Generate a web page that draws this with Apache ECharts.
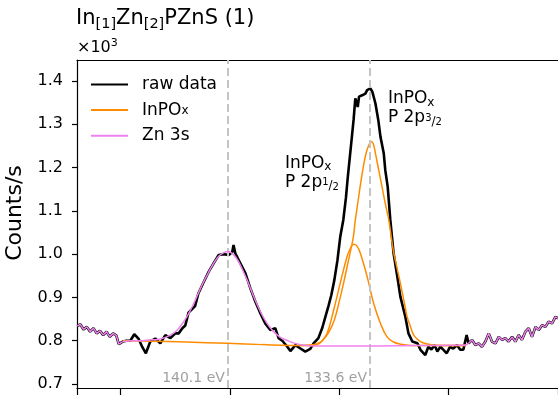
<!DOCTYPE html>
<html>
<head>
<meta charset="utf-8">
<script src="https://cdn.jsdelivr.net/npm/echarts@6/dist/echarts.min.js"></script>
<style>
  html, body { margin: 0; padding: 0; background: #fff; }
  #xpschart { width: 558px; height: 399px; }
</style>
</head>
<body>
<div id="xpschart"></div>
<script>
  // binding energy in eV, intensity in 10^3 counts/s
  const rawEnergy = [
    146.99, 146.85, 146.70, 146.55, 146.40, 146.25, 146.10, 145.95, 145.80, 145.65,
    145.50, 145.35, 145.20, 145.09, 144.91, 144.74, 144.56, 144.38, 144.19, 144.01,
    143.85, 143.65, 143.42, 143.19, 142.96, 142.73, 142.50, 142.35, 142.18, 142.05,
    141.90, 141.78, 141.60, 141.45, 141.21, 140.98, 140.75, 140.52, 140.29, 140.06,
    139.90, 139.84, 139.76, 139.53, 139.30, 139.07, 138.84, 138.61, 138.39, 138.16,
    137.93, 137.78, 137.61, 137.38, 137.24, 137.01, 136.78, 136.56, 136.33, 136.18,
    135.96, 135.78, 135.64, 135.50, 135.37, 135.23, 135.09, 134.96, 134.82, 134.70,
    134.62, 134.53, 134.43, 134.35, 134.27, 134.20, 134.16, 134.10, 134.04, 133.96,
    133.81, 133.73, 133.65, 133.58, 133.49, 133.35, 133.22, 133.12, 132.97, 132.90,
    132.79, 132.67, 132.52, 132.35, 132.21, 131.98, 131.84, 131.66, 131.43, 131.29,
    131.20, 131.07, 130.93, 130.79, 130.65, 130.52, 130.38, 130.24, 130.09, 129.94,
    129.79, 129.62, 129.47, 129.33, 129.18, 129.09, 128.93, 128.78, 128.63, 128.48,
    128.32, 128.17, 128.02, 127.86, 127.71, 127.56, 127.41, 127.26, 127.10, 126.95,
    126.80, 126.65, 126.49, 126.34, 126.19, 126.03, 125.88, 125.73, 125.58, 125.43,
    125.27, 125.12, 125.00
  ]
  const rawCounts = [
    0.834, 0.838, 0.826, 0.832, 0.821, 0.829, 0.817, 0.823, 0.813, 0.821,
    0.809, 0.817, 0.812, 0.792, 0.798, 0.800, 0.800, 0.815, 0.805, 0.785,
    0.771, 0.798, 0.805, 0.794, 0.813, 0.806, 0.817, 0.817, 0.829, 0.835,
    0.865, 0.871, 0.880, 0.909, 0.935, 0.959, 0.979, 0.998, 1.000, 0.998,
    1.005, 1.021, 1.002, 0.979, 0.956, 0.921, 0.890, 0.863, 0.840, 0.825,
    0.829, 0.806, 0.800, 0.786, 0.776, 0.790, 0.782, 0.775, 0.781, 0.794,
    0.806, 0.830, 0.855, 0.880, 0.905, 0.940, 0.985, 1.040, 1.079, 1.130,
    1.175, 1.220, 1.270, 1.310, 1.360, 1.356, 1.340, 1.364, 1.360, 1.367,
    1.371, 1.379, 1.382, 1.383, 1.375, 1.348, 1.310, 1.271, 1.233, 1.194,
    1.156, 1.079, 1.002, 0.948, 0.902, 0.855, 0.817, 0.798, 0.794, 0.779,
    0.782, 0.767, 0.786, 0.780, 0.790, 0.775, 0.786, 0.779, 0.771, 0.786,
    0.782, 0.790, 0.779, 0.779, 0.813, 0.794, 0.802, 0.790, 0.794, 0.786,
    0.798, 0.817, 0.798, 0.794, 0.809, 0.802, 0.806, 0.798, 0.809, 0.798,
    0.813, 0.802, 0.821, 0.829, 0.809, 0.832, 0.825, 0.836, 0.832, 0.844,
    0.840, 0.855, 0.852
  ]

  // Zn 3s fit (inside the fit window)
  const znEnergy = [
    144.74, 144.38, 144.01, 143.65, 143.19, 142.73, 142.41, 142.12, 141.90, 141.67,
    141.45, 141.21, 140.98, 140.75, 140.52, 140.30, 140.11, 139.90, 139.70, 139.53,
    139.22, 138.92, 138.61, 138.31, 138.01, 137.70, 137.40, 137.10, 136.78, 136.18,
    134.00, 131.50, 129.24
  ]
  const znCounts = [
    0.799, 0.800, 0.800, 0.802, 0.804, 0.813, 0.825, 0.844, 0.862, 0.885,
    0.910, 0.936, 0.958, 0.979, 0.995, 1.003, 1.006, 1.002, 0.990, 0.975,
    0.940, 0.902, 0.867, 0.840, 0.821, 0.808, 0.801, 0.795, 0.791, 0.788,
    0.788, 0.789, 0.790
  ]

  // InPOx P 2p1/2 component with background
  const p12Energy = [
    144.91, 143.65, 142.00, 140.11, 138.50, 137.24, 136.30, 136.02, 135.80, 135.56,
    135.26, 134.96, 134.65, 134.50, 134.35, 134.20, 134.04, 133.73, 133.43, 133.12,
    132.82, 132.52, 132.21, 131.75, 129.24
  ]
  const p12Counts = [
    0.800, 0.799, 0.797, 0.794, 0.791, 0.789, 0.789, 0.791, 0.799, 0.817,
    0.871, 0.933, 0.994, 1.013, 1.023, 1.019, 1.002, 0.948, 0.886, 0.840,
    0.809, 0.797, 0.792, 0.789, 0.789
  ]

  // InPOx P 2p3/2 component
  const p32Energy = [
    136.78, 136.33, 136.02, 135.78, 135.50, 135.23, 134.96, 134.80, 134.65, 134.50,
    134.36, 134.27, 134.16, 134.05, 133.93, 133.78, 133.65, 133.55, 133.45, 133.35,
    133.20, 133.05, 132.90, 132.74, 132.60, 132.52, 132.35, 132.21, 131.98, 131.90,
    131.75, 131.60, 131.29, 130.93, 130.40, 129.24
  ]
  const p32Counts = [
    0.789, 0.790, 0.793, 0.800, 0.818, 0.848, 0.900, 0.935, 0.970, 1.005,
    1.040, 1.079, 1.117, 1.156, 1.194, 1.233, 1.252, 1.260, 1.255, 1.233,
    1.194, 1.156, 1.117, 1.079, 1.030, 1.005, 0.965, 0.933, 0.875, 0.855,
    0.833, 0.813, 0.798, 0.792, 0.789, 0.789
  ]

  const peakPositions = [140.1, 133.6]
  const peakLabels = ['140.1 eV', '133.6 eV']
  const yTicks = [0.7, 0.8, 0.9, 1.0, 1.1, 1.2, 1.3, 1.4]

  const font = 'DejaVu Sans'
  const pairs = (xs, ys) => xs.map((x, i) => [x, ys[i]])
  const rawData = pairs(rawEnergy, rawCounts)
  const rawLeft = rawData.filter(p => p[0] >= 144.9)
  const rawRight = rawData.filter(p => p[0] <= 129.1)
  // outside the fit window the Zn 3s envelope is the raw data itself
  const znEdges = rawLeft.concat(['-'], rawRight)
  const znFit = [rawLeft[rawLeft.length - 1]].concat(pairs(znEnergy, znCounts), [rawRight[0]])

  const fracRich = {
    s: { fontSize: 12, lineHeight: 10, verticalAlign: 'bottom', fontFamily: font, color: '#000' },
    a: { fontSize: 10, lineHeight: 19, verticalAlign: 'middle', fontFamily: font, color: '#000' },
    b: { fontSize: 12, lineHeight: 8, verticalAlign: 'bottom', fontFamily: font, color: '#000' },
    c: { fontSize: 10, lineHeight: 3, verticalAlign: 'bottom', fontFamily: font, color: '#000' }
  }

  const chart = echarts.init(document.getElementById('xpschart'))
  const axisColor = '#000'
  chart.setOption({
    animation: false,
    textStyle: { fontFamily: font },
    title: [
      {
        text: 'In{s|[1]}Zn{s|[2]}PZnS (1)',
        left: 76, top: 6, padding: 0,
        textStyle: {
          fontSize: 21, fontWeight: 'normal', color: '#000', fontFamily: font, lineHeight: 26,
          rich: { s: { fontSize: 14.5, lineHeight: 16, verticalAlign: 'bottom', fontFamily: font, color: '#000' } }
        }
      },
      {
        text: '×10{p|3}',
        left: 77, top: 38, padding: 0,
        textStyle: {
          fontSize: 16, fontWeight: 'normal', color: '#000', fontFamily: font, lineHeight: 20,
          rich: { p: { fontSize: 11, lineHeight: 12, verticalAlign: 'top', fontFamily: font, color: '#000' } }
        }
      }
    ],
    legend: {
      data: ['raw data', 'InPOx', 'Zn 3s'],
      orient: 'vertical',
      left: 90, top: 76, padding: 0,
      itemWidth: 37, itemHeight: 14, itemGap: 8.6,
      itemStyle: { opacity: 0 },
      formatter: n => n === 'InPOx' ? 'InPO{s|x}' : n,
      textStyle: {
        fontSize: 17, color: '#000', fontFamily: font, lineHeight: 14, padding: [0, 0, 0, 9],
        rich: { s: { fontSize: 12, lineHeight: 10, verticalAlign: 'bottom', fontFamily: font, color: '#000' } }
      }
    },
    grid: { left: 77, right: 0, top: 60, bottom: 11, outerBoundsMode: 'none' },
    xAxis: [
      {
        type: 'value', min: 125, max: 147, interval: 5, inverse: true, position: 'bottom',
        axisLine: { onZero: false, lineStyle: { color: axisColor, width: 1.2 } },
        axisTick: { length: 7, lineStyle: { color: axisColor, width: 1.2 } },
        axisLabel: { show: false },
        splitLine: { show: false }
      },
      {
        type: 'value', min: 125, max: 147, inverse: true, position: 'top',
        axisLine: { show: true, onZero: false, lineStyle: { color: axisColor, width: 1.2 } },
        axisTick: { show: false }, axisLabel: { show: false }, splitLine: { show: false }
      }
    ],
    yAxis: {
      type: 'value', min: 0.6908, max: 1.4485,
      name: 'Counts/s', nameLocation: 'middle', nameGap: 50,
      nameTextStyle: { fontSize: 22, color: '#000', fontFamily: font, padding: [0, 0, 0, 22] },
      axisLine: { show: true, onZero: false, lineStyle: { color: axisColor, width: 1.2 } },
      axisTick: { show: true, length: 5, customValues: yTicks, lineStyle: { color: axisColor, width: 1.2 } },
      axisLabel: { customValues: yTicks, formatter: v => v.toFixed(1), fontSize: 16, color: '#000', margin: 14, fontFamily: font },
      splitLine: { show: false }
    },
    series: [
      {
        name: 'guides', type: 'line', data: [], z: 1, silent: true,
        markLine: {
          silent: true, symbol: ['none', 'none'], animation: false,
          label: { show: false },
          lineStyle: { color: '#c4c4c4', type: [8, 4], width: 2 },
          data: peakPositions.map(v => ({ xAxis: v }))
        },
        markPoint: {
          silent: true, symbol: 'rect', symbolSize: 0, animation: false,
          data: peakPositions.map((v, i) => ({
            coord: [v, 0.7],
            label: { show: true, position: 'left', distance: 3, offset: [0, -6], formatter: peakLabels[i], color: '#a0a0a0', fontSize: 14, fontFamily: font }
          })).concat([
            {
              coord: [132.78, 1.3365],
              label: {
                show: true, position: 'right', distance: 0, color: '#000', fontSize: 17, lineHeight: 19, fontFamily: font,
                formatter: 'InPO{s|x}\nP 2p{a|3}{b|/}{c|2}', rich: fracRich
              }
            },
            {
              coord: [137.49, 1.1875],
              label: {
                show: true, position: 'right', distance: 0, color: '#000', fontSize: 17, lineHeight: 19, fontFamily: font,
                formatter: 'InPO{s|x}\nP 2p{a|1}{b|/}{c|2}', rich: fracRich
              }
            }
          ])
        }
      },
      {
        name: 'raw data', type: 'line', data: rawData, symbol: 'none', z: 3,
        lineStyle: { color: '#000', width: 2.6 }, itemStyle: { color: '#000' }
      },
      {
        name: 'InPOx', type: 'line', data: pairs(p12Energy, p12Counts), symbol: 'none', smooth: 0.4, z: 4,
        lineStyle: { color: '#ff8c00', width: 1.5 }, itemStyle: { color: '#ff8c00' }
      },
      {
        name: 'InPOx', type: 'line', data: pairs(p32Energy, p32Counts), symbol: 'none', smooth: 0.4, z: 4,
        lineStyle: { color: '#ff8c00', width: 1.5 }, itemStyle: { color: '#ff8c00' }
      },
      {
        name: 'Zn 3s', type: 'line', data: znEdges, symbol: 'none', z: 5,
        lineStyle: { color: '#ee82ee', width: 1.5 }, itemStyle: { color: '#ee82ee' }
      },
      {
        name: 'Zn 3s', type: 'line', data: znFit, symbol: 'none', smooth: 0.4, z: 5,
        lineStyle: { color: '#ee82ee', width: 1.5 }, itemStyle: { color: '#ee82ee' }
      }
    ]
  })
</script>
</body>
</html>
